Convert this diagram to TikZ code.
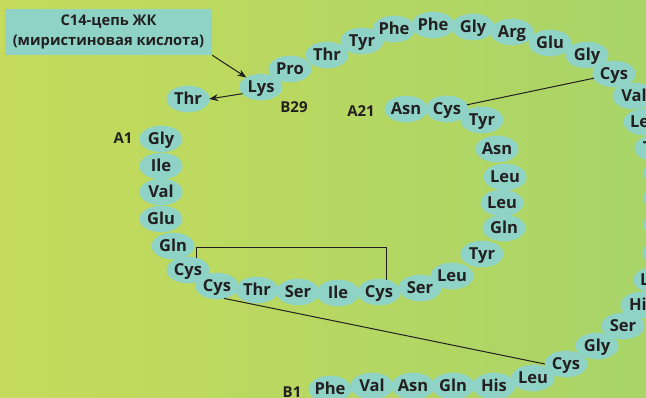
\documentclass[tikz,border=0pt]{standalone}
\usepackage{fontspec}
\setmainfont{Open Sans}
\usetikzlibrary{shapes.geometric,arrows.meta,backgrounds}

\definecolor{bgA}{RGB}{198,219,92}
\definecolor{bgB}{RGB}{168,212,104}
\definecolor{bead}{RGB}{143,211,198}
\definecolor{ink}{RGB}{35,31,32}

\tikzset{
  aa/.style={ellipse, minimum width=42pt, minimum height=26pt, inner sep=0pt,
             text=ink, font=\fontsize{16.5}{17}\selectfont\bfseries,
             text height=11.5pt, text depth=0pt},
  lbl/.style={text=ink, font=\fontsize{15}{16}\selectfont\bfseries, inner sep=0pt},
  bond/.style={draw=ink, line width=1pt},
  arr/.style={draw=ink, line width=1pt, -{Stealth[length=9pt,width=7pt]}},
  beadfill/.style={fill=bead},
}

\begin{document}
\begin{tikzpicture}[x=1pt,y=-1pt]
\useasboundingbox (0,0) rectangle (646,398);
\clip (0,0) rectangle (646,398);

% ---- chain A ----
\node[aa] (a1)  at (161,139) {Gly};
\node[aa] (a2)  at (161,166) {Ile};
\node[aa] (a3)  at (161,192) {Val};
\node[aa] (a4)  at (161,219) {Glu};
\node[aa] (a5)  at (173,246) {Gln};
\node[aa] (a6)  at (188,270) {Cys};
\node[aa] (a7)  at (217,286) {Cys};
\node[aa] (a8)  at (257,290) {Thr};
\node[aa] (a9)  at (298,292) {Ser};
\node[aa] (a10) at (338,293) {Ile};
\node[aa] (a11) at (379,292) {Cys};
\node[aa] (a12) at (420,288) {Ser};
\node[aa] (a13) at (452,276) {Leu};
\node[aa] (a14) at (482,254) {Tyr};
\node[aa] (a15) at (504,228) {Gln};
\node[aa] (a16) at (502,203) {Leu};
\node[aa] (a17) at (505,177) {Leu};
\node[aa] (a18) at (497,149) {Asn};
\node[aa] (a19) at (482,120) {Tyr};
\node[aa] (a20) at (447,109) {Cys};
\node[aa] (a21) at (406,109) {Asn};

% ---- chain B ----
\node[aa] (b1)  at (330,389) {Phe};
\node[aa] (b2)  at (372,386) {Val};
\node[aa] (b3)  at (413,386) {Asn};
\node[aa] (b4)  at (453,386) {Gln};
\node[aa] (b5)  at (494,386) {His};
\node[aa] (b6)  at (533,378) {Leu};
\node[aa] (b7)  at (566,364) {Cys};
\node[aa] (b8)  at (597,346) {Gly};
\node[aa] (b9)  at (623,326) {Ser};
\node[aa] (b10) at (642,305) {His};
\node[aa] (b11) at (655,280) {Leu};
\node[aa] (b12) at (664,253) {Val};
\node[aa] (b13) at (665,225) {Glu};
\node[aa] (b14) at (665,198) {Ala};
\node[aa] (b15) at (665,173) {Leu};
\node[aa] (b16) at (656,148) {Tyr};
\node[aa] (b17) at (645,122) {Leu};
\node[aa] (b18) at (634,96)  {Val};
\node[aa] (b19) at (614,74)  {Cys};
\node[aa] (b20) at (587,55)  {Gly};
\node[aa] (b21) at (550,43)  {Glu};
\node[aa] (b22) at (512,32)  {Arg};
\node[aa] (b23) at (473,27)  {Gly};
\node[aa] (b24) at (433,25)  {Phe};
\node[aa] (b25) at (394,29)  {Phe};
\node[aa] (b26) at (362,41)  {Tyr};
\node[aa] (b27) at (327,55)  {Thr};
\node[aa] (b28) at (290,69)  {Pro};
\node[aa] (b29) at (261,87)  {Lys};
\node[aa] (b30) at (188,99)  {Thr};

% backdrop, then the beads behind the residue names
\begin{pgfonlayer}{background}
  \shade[left color=bgA,right color=bgB] (0,0) rectangle (646,398);
  \foreach \n in {a1,a2,a3,a4,a5,a6,a7,a8,a9,a10,a11,a12,a13,a14,a15,a16,a17,a18,a19,a20,a21,
                  b1,b2,b3,b4,b5,b6,b7,b8,b9,b10,b11,b12,b13,b14,b15,b16,b17,b18,b19,b20,
                  b21,b22,b23,b24,b25,b26,b27,b28,b29,b30}
    \fill[beadfill] (\n.center) ellipse (21.5pt and 13.3pt);
\end{pgfonlayer}

% ---- terminus labels ----
\node[lbl] (lA1)  at (123,138) {A1};
\node[lbl] (lA21) at (361,111) {A21};
\node[lbl] (lB1)  at (292,392) {B1};
\node[lbl] (lB29) at (294,107) {B29};

% ---- fatty acid tag ----
\node[fill=bead, text=ink, font=\fontsize{14.7}{20}\selectfont\bfseries, align=center,
      minimum width=207pt, minimum height=46pt, inner sep=0pt] (fa) at (108.5,32)
      {C14-цепь ЖК\\(миристиновая кислота)};

\draw[arr] (fa.south east) -- (b29);
\draw[arr] (b29.200) -- (b30.east);

% ---- disulfide bridges ----
\draw[bond] (a20) -- (b19);
\draw[bond] (a7.300) -- (b7.west);
\draw[bond] (a6.55) -- ++(0,-10) -| (a11.60);
\end{tikzpicture}
\end{document}
